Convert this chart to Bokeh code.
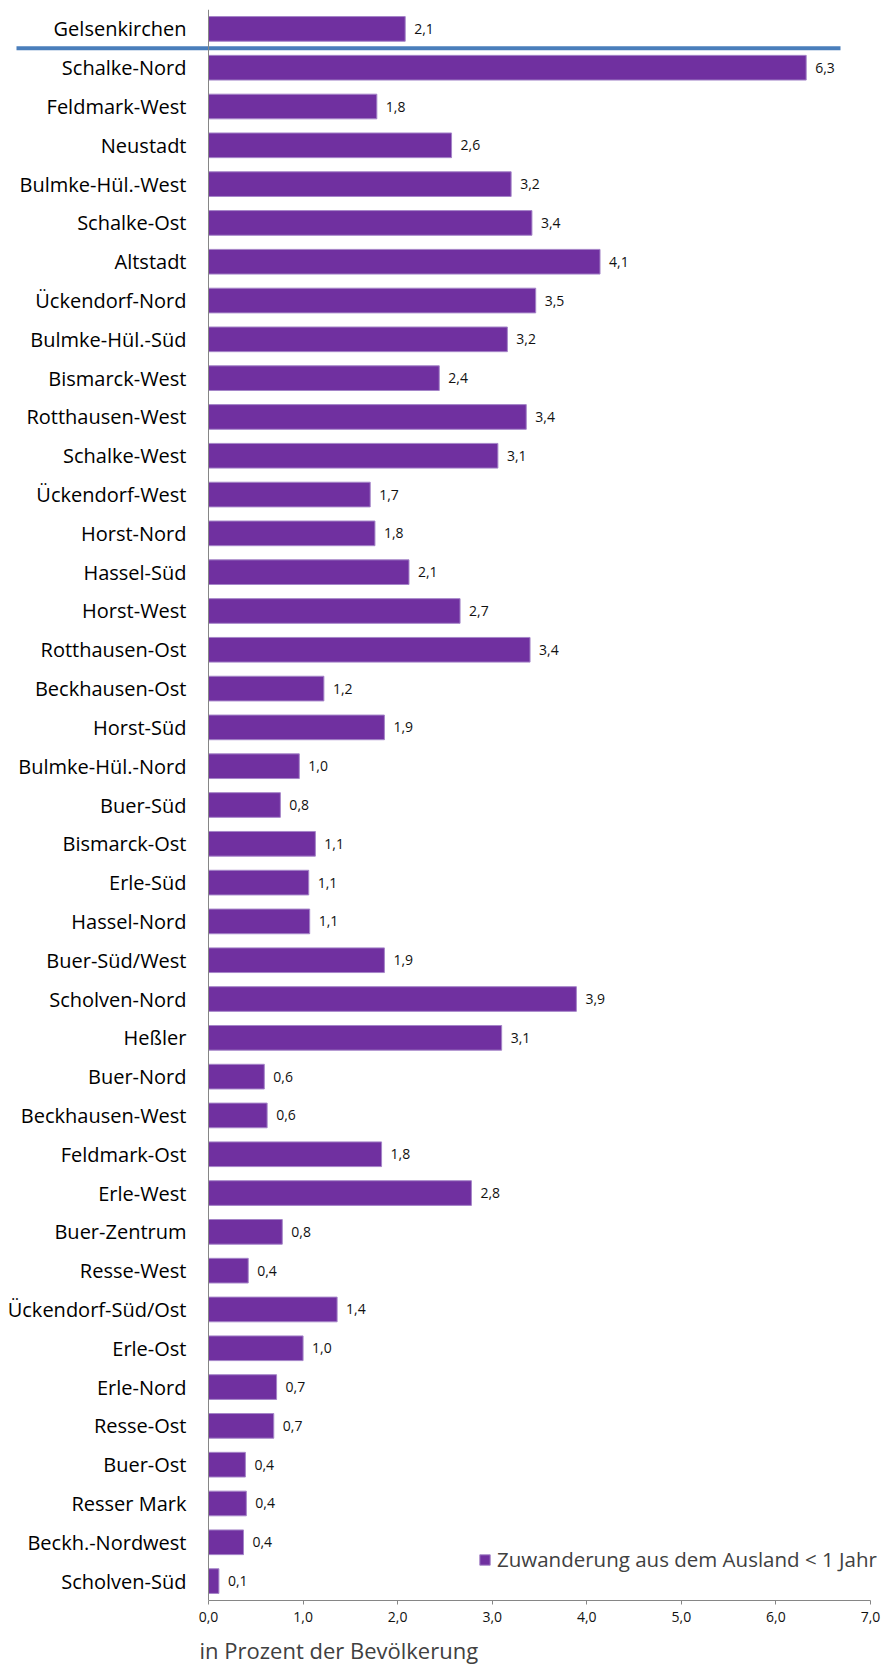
from bokeh.plotting import figure
from bokeh.models import (ColumnDataSource, FactorRange, Range1d, Span, FixedTicker,
                          Legend, LegendItem, Title)
from bokeh.transform import dodge
from bokeh.core.properties import value
from bokeh.embed import file_html
from bokeh.resources import INLINE

# ---------------- data ----------------
districts = [
    "Gelsenkirchen", "Schalke-Nord", "Feldmark-West", "Neustadt", "Bulmke-Hül.-West",
    "Schalke-Ost", "Altstadt", "Ückendorf-Nord", "Bulmke-Hül.-Süd", "Bismarck-West",
    "Rotthausen-West", "Schalke-West", "Ückendorf-West", "Horst-Nord", "Hassel-Süd",
    "Horst-West", "Rotthausen-Ost", "Beckhausen-Ost", "Horst-Süd", "Bulmke-Hül.-Nord",
    "Buer-Süd", "Bismarck-Ost", "Erle-Süd", "Hassel-Nord", "Buer-Süd/West",
    "Scholven-Nord", "Heßler", "Buer-Nord", "Beckhausen-West", "Feldmark-Ost",
    "Erle-West", "Buer-Zentrum", "Resse-West", "Ückendorf-Süd/Ost", "Erle-Ost",
    "Erle-Nord", "Resse-Ost", "Buer-Ost", "Resser Mark", "Beckh.-Nordwest",
    "Scholven-Süd",
]
immigration_pct = [
    2.08, 6.32, 1.78, 2.57, 3.20,
    3.42, 4.14, 3.46, 3.16, 2.44,
    3.36, 3.06, 1.71, 1.76, 2.12,
    2.66, 3.40, 1.22, 1.86, 0.96,
    0.76, 1.13, 1.06, 1.07, 1.86,
    3.89, 3.10, 0.59, 0.62, 1.83,
    2.78, 0.78, 0.42, 1.36, 1.00,
    0.72, 0.69, 0.39, 0.40, 0.37,
    0.11,
]
x_ticks = [0, 1, 2, 3, 4, 5, 6, 7]
x_tick_labels = ["0,0", "1,0", "2,0", "3,0", "4,0", "5,0", "6,0", "7,0"]
series_name = "Zuwanderung aus dem Ausland < 1 Jahr"
x_title = "in Prozent der Bevölkerung"
reference_district = "Gelsenkirchen"

value_labels = [f"{v:.1f}".replace(".", ",") for v in immigration_pct]

# ---------------- layout / style ----------------
FONT = "Open Sans"
BAR_COLOR = "#7030A0"
AXIS_COLOR = "#868686"
W, H = 885, 1672
AXIS_X0_PX = 208           # screen x of value 0
AXIS_X7_PX = 870           # screen x of value 7
FRAME_TOP = 9
FRAME_BOTTOM_BORDER = 71
X_MAX = 7.0
px_per_unit = (AXIS_X7_PX - AXIS_X0_PX) / X_MAX
x_start = -AXIS_X0_PX / px_per_unit
x_end = (W - AXIS_X0_PX) / px_per_unit
SEP_X0 = (16 - AXIS_X0_PX) / px_per_unit
SEP_X1 = (840 - AXIS_X0_PX) / px_per_unit

source = ColumnDataSource(dict(name=districts, value=immigration_pct, label=value_labels))

p = figure(
    width=W, height=H,
    x_range=Range1d(x_start, x_end),
    y_range=FactorRange(factors=districts[::-1]),
    y_axis_location=None,
    output_backend="svg", toolbar_location=None,
    min_border_left=0, min_border_right=0,
    min_border_top=FRAME_TOP, min_border_bottom=FRAME_BOTTOM_BORDER,
)
p.outline_line_color = None
p.xgrid.grid_line_color = None
p.ygrid.grid_line_color = None
p.background_fill_color = "white"
p.border_fill_color = "white"

bars = p.hbar(y="name", right="value", left=0, height=0.636, source=source,
              fill_color=BAR_COLOR, line_color="#A585C8", line_width=1)

# value labels
p.text(x="value", y="name", text="label", source=source, x_offset=9,
       text_align="left", text_baseline="middle",
       text_font=value(FONT), text_font_size="14px", text_color="#111111")

# category labels
p.text(x=0, y="name", text="name", source=source, x_offset=-22,
       text_align="right", text_baseline="middle",
       text_font=value(FONT), text_font_size="20px", text_color="#000000")

# vertical category axis line
p.add_layout(Span(location=0, dimension="height", line_color=AXIS_COLOR, line_width=1))

# separator below the city total
sep_src = ColumnDataSource(dict(y=[reference_district]))
p.segment(x0=SEP_X0, x1=SEP_X1,
          y0=dodge("y", -0.5, range=p.y_range), y1=dodge("y", -0.5, range=p.y_range),
          source=sep_src, line_color="#4A7EBB", line_width=4, line_cap="butt")

# x axis
xa = p.xaxis[0]
xa.bounds = (0, X_MAX)
xa.ticker = FixedTicker(ticks=x_ticks)
xa.major_label_overrides = {t: l for t, l in zip(x_ticks, x_tick_labels)}
xa.minor_tick_line_color = None
xa.major_tick_in = 0
xa.major_tick_out = 4
xa.axis_line_color = AXIS_COLOR
xa.major_tick_line_color = AXIS_COLOR
xa.major_label_standoff = 7
xa.major_label_text_font = FONT
xa.major_label_text_font_size = "14px"
xa.major_label_text_color = "#111111"

# axis title (left aligned, below axis)
p.add_layout(Title(text=x_title, align="left", offset=199, standoff=16,
                   text_font=FONT, text_font_size="22px", text_font_style="normal",
                   text_color="#404040"), "below")

# legend
legend = Legend(items=[LegendItem(label=series_name, renderers=[bars])],
                location=(478, 27), orientation="vertical",
                glyph_width=13, glyph_height=13, label_standoff=6,
                padding=0, margin=0, spacing=0,
                label_text_font=FONT, label_text_font_size="20.5px",
                label_text_color="#404040", label_height=20,
                border_line_color=None, background_fill_alpha=0)
p.add_layout(legend)

open("out.html", "w").write(file_html(p, INLINE))
